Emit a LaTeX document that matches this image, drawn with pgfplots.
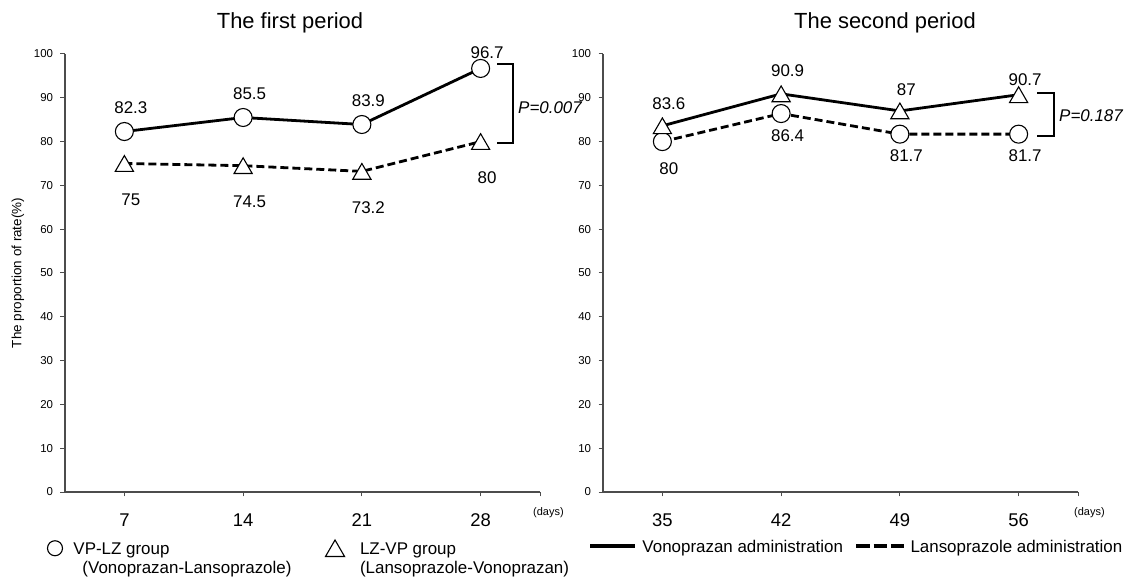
\documentclass[border=0pt]{standalone}
\usepackage{fontspec}
\setmainfont{Liberation Sans}
\usepackage{pgfplots}
\usepackage{pgfplotstable}
\pgfplotsset{compat=1.18}

\pgfplotstableread{
x y off
0 82.3 24
1 85.5 24
2 83.9 24
3 96.7 16
}\LeftCirc
\pgfplotstableread{
x y off
0 75 -33.5
1 74.5 -33.5
2 73.2 -33.5
3 80 -33.5
}\LeftTri
\pgfplotstableread{
x y off
0 80 -27.5
1 86.4 -22
2 81.7 -22
3 81.7 -22
}\RightCirc
\pgfplotstableread{
x y off
0 83.6 25
1 90.9 26
2 87 24
3 90.7 18
}\RightTri

\pgfplotsset{
  myaxis/.style={
    scale only axis, width=475bp, height=438bp, anchor=south west,
    xmin=-0.5, xmax=3.5, ymin=0, ymax=100,
    ytick={0,10,...,100}, xtick={0,1,2,3},
    extra x ticks={3.5}, extra x tick labels={},
    axis x line*=bottom, axis y line*=left,
    axis line style={black!70, line width=1.2bp, -},
    tick style={black!70, line width=1bp},
    major tick length=4.5bp, tick align=outside,
    yticklabel style={font=\fontsize{11.5}{13}\selectfont, anchor=east, inner xsep=0pt, xshift=-7.2bp},
    xticklabel style={font=\fontsize{18.5}{20}\selectfont, anchor=north, inner ysep=0pt, text depth=0pt, yshift=-17bp},
    /pgf/number format/assume math mode=true,
    clip=false,
    legend cell align=left,
  },
  circ/.style={black, mark=*, mark size=9bp, mark options={solid, fill=white, draw=black, line width=1.1bp}},
  tri/.style={black, mark=triangle*, mark size=10.5bp, mark options={solid, fill=white, draw=black, line width=1.1bp, yshift=-2.6bp}},
  solidl/.style={line width=2.8bp},
  dashl/.style={line width=2.8bp, dash pattern=on 8bp off 4bp},
  lbl/.style={nodes near coords, point meta=explicit,
    visualization depends on={\thisrow{off} \as \myoff},
    every node near coord/.append style={anchor=center, xshift=6.5bp, yshift=\myoff*1bp, font=\fontsize{17}{20}\selectfont, black}},
  legcirc/.style={legend image code/.code={\draw[black] plot[mark=*, mark size=7.5bp, mark options={fill=white, draw=black, line width=1.1bp}] coordinates {(0bp,0bp)};}},
  legtri/.style={legend image code/.code={\draw[black] plot[mark=triangle*, mark size=11bp, mark options={fill=white, draw=black, line width=1.1bp}] coordinates {(0bp,-2.75bp)};}},
  legblank/.style={legend image code/.code={\path (0bp,0bp);}},
  legsolid/.style={legend image code/.code={\draw[black, line width=4.5bp] (0bp,0bp) -- (45bp,0bp);}},
  legdash/.style={legend image code/.code={\draw[black, line width=4.5bp, dash pattern=on 13.5bp off 3.75bp] (0bp,0bp) -- (48bp,0bp);}},
  mylegend/.style={legend style={draw=none, fill=none, inner sep=0pt, outer sep=0pt, row sep=0bp,
    font=\fontsize{17}{20}\selectfont, anchor=north west,
    cells={anchor=west, inner xsep=0pt, inner ysep=0pt, text height=14bp, text depth=3bp},
    /tikz/every odd column/.style={column sep=0bp},
    /tikz/every even column/.style={column sep=#1}}},
}

\begin{document}
\begin{tikzpicture}
\useasboundingbox (0,0) rectangle (1130bp,578bp);

% ---------- first period ----------
\begin{axis}[myaxis, at={(65bp,86bp)}, xticklabels={7,14,21,28},
  legend columns=2, mylegend=32bp,
  legend style={at={(axis description cs:-0.03684,-0.10617)}}]
\addlegendimage{legcirc}
\addlegendentry{\hspace*{9bp}VP-LZ group}
\addlegendimage{legtri}
\addlegendentry{\hspace*{13.5bp}LZ-VP group}
\addlegendimage{legblank}
\addlegendentry{\hspace*{18bp}(Vonoprazan-Lansoprazole)}
\addlegendimage{legblank}
\addlegendentry{\hspace*{13.5bp}(Lansoprazole-Vonoprazan)}
\addplot[solidl, circ, lbl, forget plot] table[x=x, y=y, meta=y] {\LeftCirc};
\addplot[dashl, tri, lbl, forget plot] table[x=x, y=y, meta=y] {\LeftTri};
\end{axis}

% ---------- second period ----------
\begin{axis}[myaxis, at={(603bp,86bp)}, xticklabels={35,42,49,56},
  legend columns=2, mylegend=9bp,
  legend style={at={(axis description cs:-0.03158,-0.10160)}}]
\addlegendimage{legsolid}
\addlegendentry{\hspace*{3bp}Vonoprazan administration}
\addlegendimage{legdash}
\addlegendentry{\hspace*{2bp}Lansoprazole administration}
\addplot[dashl, circ, lbl, forget plot] table[x=x, y=y, meta=y] {\RightCirc};
\addplot[solidl, tri, lbl, forget plot] table[x=x, y=y, meta=y] {\RightTri};
\end{axis}

% titles, labels and annotations
\node[font=\fontsize{22}{26}\selectfont, anchor=base] at (290bp,549.7bp) {The first period};
\node[font=\fontsize{22}{26}\selectfont, anchor=base] at (885bp,549.7bp) {The second period};
\node[font=\fontsize{13.5}{16}\selectfont, rotate=90] at (18bp,305bp) {The proportion of rate(\%)};
\node[font=\fontsize{11}{13}\selectfont, anchor=west, inner sep=0pt] at (533bp,65bp) {(days)};
\node[font=\fontsize{11}{13}\selectfont, anchor=west, inner sep=0pt] at (1074bp,65bp) {(days)};

\draw[black, line width=1.3bp] (497bp,514bp) -- (513bp,514bp) -- (513bp,435bp) -- (497bp,435bp);
\node[font=\fontsize{17}{20}\selectfont\itshape, anchor=west, inner sep=0pt] at (518bp,470bp) {P=0.007};
\draw[black, line width=1.3bp] (1037bp,485bp) -- (1054bp,485bp) -- (1054bp,442bp) -- (1037bp,442bp);
\node[font=\fontsize{17}{20}\selectfont\itshape, anchor=west, inner sep=0pt] at (1059bp,462.5bp) {P=0.187};
\end{tikzpicture}
\end{document}
